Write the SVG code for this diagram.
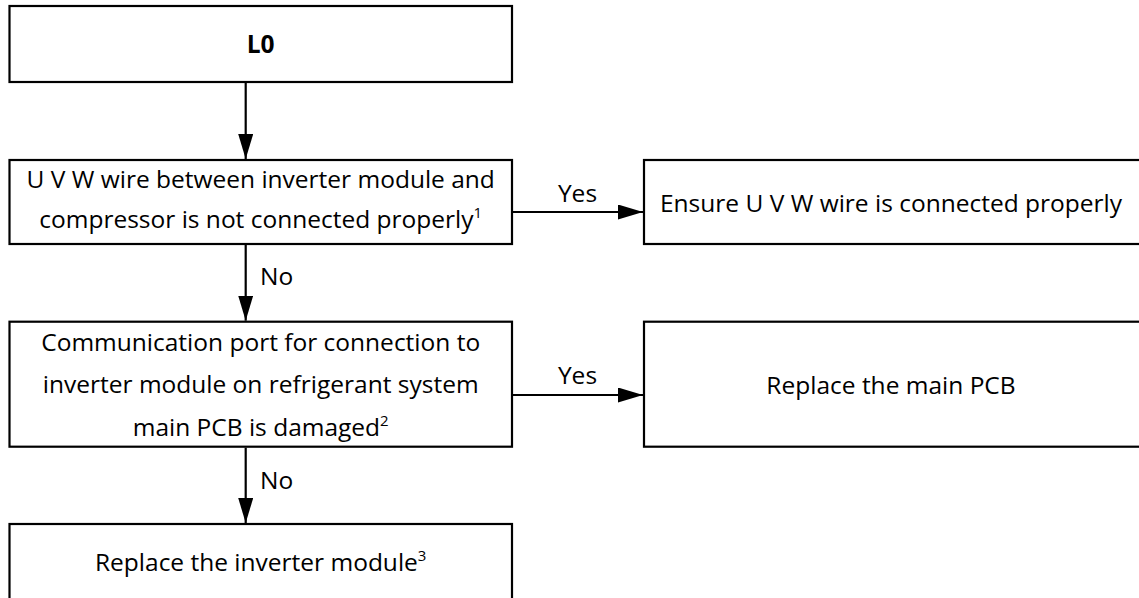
<svg xmlns="http://www.w3.org/2000/svg" width="1139" height="598" viewBox="0 0 1139 598">
<defs>
<style>
.box{fill:#fff;stroke:#000;stroke-width:2.2}
.t{font-family:"Open Sans","Noto Sans","Liberation Sans",sans-serif;font-size:24.5px;fill:#000;text-anchor:middle}
.lbl{font-family:"Open Sans","Noto Sans","Liberation Sans",sans-serif;font-size:24.5px;fill:#000}
.b{font-weight:bold}
.sup{font-size:15px}
.c{fill:none;stroke:#000;stroke-width:2.2}
</style>
<marker id="ah" markerUnits="userSpaceOnUse" markerWidth="26" markerHeight="16" refX="25" refY="7.5" orient="auto">
<path d="M0,0 L25,7.5 L0,15 Z" fill="#000"/>
</marker>
</defs>
<rect width="1139" height="598" fill="#fff"/>
<g id="connectors">
<line class="c" x1="245.7" y1="82" x2="245.7" y2="159" marker-end="url(#ah)"/>
<line class="c" x1="245.7" y1="245" x2="245.7" y2="320.7" marker-end="url(#ah)"/>
<line class="c" x1="245.7" y1="447.7" x2="245.7" y2="523" marker-end="url(#ah)"/>
<line class="c" x1="512" y1="212" x2="643" y2="212" marker-end="url(#ah)"/>
<line class="c" x1="512" y1="395" x2="643" y2="395" marker-end="url(#ah)"/>
<text class="lbl" x="260" y="285">No</text>
<text class="lbl" x="260" y="489">No</text>
<text class="lbl" x="577.5" y="201.5" text-anchor="middle">Yes</text>
<text class="lbl" x="577.5" y="383.5" text-anchor="middle">Yes</text>
</g>
<g id="n-l0">
<rect class="box" x="9.5" y="6" width="502.5" height="76"/>
<text class="t b" x="260.7" y="52.5">L0</text>
</g>
<g id="n-uvw">
<rect class="box" x="9.5" y="160" width="502.5" height="84"/>
<text class="t" x="260.7" y="188">U V W wire between inverter module and</text>
<text class="t" x="260.7" y="227.5">compressor is not connected properly<tspan class="sup" dy="-10">1</tspan></text>
</g>
<g id="n-ensure">
<rect class="box" x="644" y="160" width="510" height="84"/>
<text class="t" x="891" y="211.5">Ensure U V W wire is connected properly</text>
</g>
<g id="n-comm">
<rect class="box" x="9.5" y="321.7" width="502.5" height="125"/>
<text class="t" x="260.7" y="350.5">Communication port for connection to</text>
<text class="t" x="260.7" y="393">inverter module on refrigerant system</text>
<text class="t" x="260.7" y="435.5">main PCB is damaged<tspan class="sup" dy="-10">2</tspan></text>
</g>
<g id="n-pcb">
<rect class="box" x="644" y="321.7" width="510" height="125"/>
<text class="t" x="891" y="393.5">Replace the main PCB</text>
</g>
<g id="n-inv">
<rect class="box" x="9.5" y="524" width="502.5" height="90"/>
<text class="t" x="260.7" y="571">Replace the inverter module<tspan class="sup" dy="-10">3</tspan></text>
</g>
</svg>
